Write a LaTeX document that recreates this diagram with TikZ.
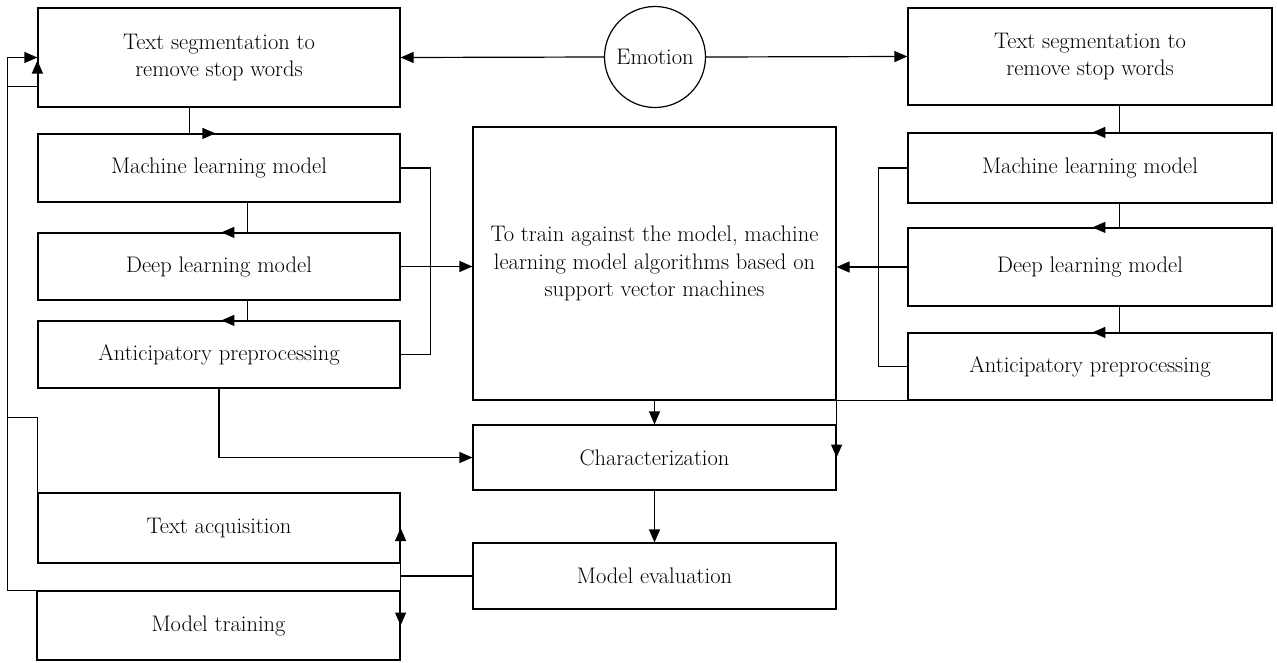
\documentclass[tikz,border=0pt]{standalone}
\usetikzlibrary{arrows.meta,calc}
\begin{document}
\begin{tikzpicture}[x=1pt,y=-1pt,
  every node/.style={font=\fontsize{22.5}{27.5}\selectfont},
  box/.style={draw, rectangle, line width=1.2pt, inner sep=0pt, align=center},
  link/.style={line width=1.2pt},
  arr/.style={link, -{Triangle[length=13pt,width=11pt]}}]
\useasboundingbox (0,0) rectangle (1277,662);

% left column
\node[box, minimum width=362, minimum height=99] (tsl) at (219,57.5) {Text segmentation to\\remove stop words};
\node[box, minimum width=362, minimum height=68] (mll) at (219,168) {Machine learning model};
\node[box, minimum width=362, minimum height=67] (dll) at (219,266.5) {Deep learning model};
\node[box, minimum width=362, minimum height=67] (apl) at (219,354.5) {Anticipatory preprocessing};
\node[box, minimum width=362, minimum height=70] (ta) at (219,528) {Text acquisition};
\node[box, minimum width=363, minimum height=69] (mt) at (218.5,625.5) {Model training};

% right column
\node[box, minimum width=364, minimum height=97] (tsr) at (1090,56.5) {Text segmentation to\\remove stop words};
\node[box, minimum width=364, minimum height=70] (mlr) at (1090,168) {Machine learning model};
\node[box, minimum width=364, minimum height=78] (dlr) at (1090,267) {Deep learning model};
\node[box, minimum width=364, minimum height=67] (apr) at (1090,366.5) {Anticipatory preprocessing};

% centre column
\node[draw, circle, line width=1.2pt, minimum size=101, inner sep=0pt] (emo) at (655,57) {Emotion};
\node[box, minimum width=363, minimum height=273] (svm) at (654.5,263.5) {To train against the model, machine\\learning model algorithms based on\\support vector machines};
\node[box, minimum width=363, minimum height=65] (chr) at (654.5,457.5) {Characterization};
\node[box, minimum width=363, minimum height=66] (me) at (654.5,576) {Model evaluation};

% emotion to both segmentation boxes
\draw[arr] (emo.west) -- (tsl.east);
\draw[arr] (emo.east) -- (tsr.west);

% left chain
\draw[arr] ($(tsl.south west)+(152,0)$) -- ($(mll.north west)+(152,0)$) -- ($(mll.north west)+(178,0)$);
\draw[arr] ($(mll.south west)+(210,0)$) -- ($(dll.north west)+(210,0)$) -- ($(dll.north west)+(184,0)$);
\draw[arr] ($(dll.south west)+(210,0)$) -- ($(apl.north west)+(210,0)$) -- ($(apl.north west)+(184,0)$);

% right chain
\draw[arr] ($(tsr.south west)+(212,0)$) -- ($(mlr.north west)+(212,0)$) -- ($(mlr.north west)+(185,0)$);
\draw[arr] ($(mlr.south west)+(212,0)$) -- ($(dlr.north west)+(212,0)$) -- ($(dlr.north west)+(185,0)$);
\draw[arr] ($(dlr.south west)+(212,0)$) -- ($(apr.north west)+(212,0)$) -- ($(apr.north west)+(185,0)$);

% left bracket into the SVM box
\draw[link] (mll.east) -- ++(30,0) |- (apl.east);
\draw[arr] (dll.east) -- (dll.east -| svm.west);

% right bracket into the SVM box
\draw[link] (mlr.west) -- ++(-29,0) |- (apr.west);
\draw[arr] (dlr.west) -- (dlr.west -| svm.east);

% into characterization
\draw[arr] (svm.south) -- (chr.north);
\draw[arr] (apr.south west) -- (svm.south east) -- (chr.east);
\draw[arr] (apl.south) |- (chr.west);
\draw[arr] (chr.south) -- (me.north);

% evaluation back to acquisition and training
\coordinate (jn) at (ta.east |- me.west);
\draw[link] (me.west) -- (jn);
\draw[arr] (jn) -- (ta.east);
\draw[arr] (jn) -- (mt.east);

% feedback loops to the left segmentation box
\draw[arr] (mt.north west) -- ++(-29,0) |- (tsl.west);
\draw[arr] (ta.north west) -- ++(0,-75) -- ++(-30,0) -- ++(0,-331) -- ++(30,0) -- ($(tsl.west)+(0,3)$);
\end{tikzpicture}
\end{document}
